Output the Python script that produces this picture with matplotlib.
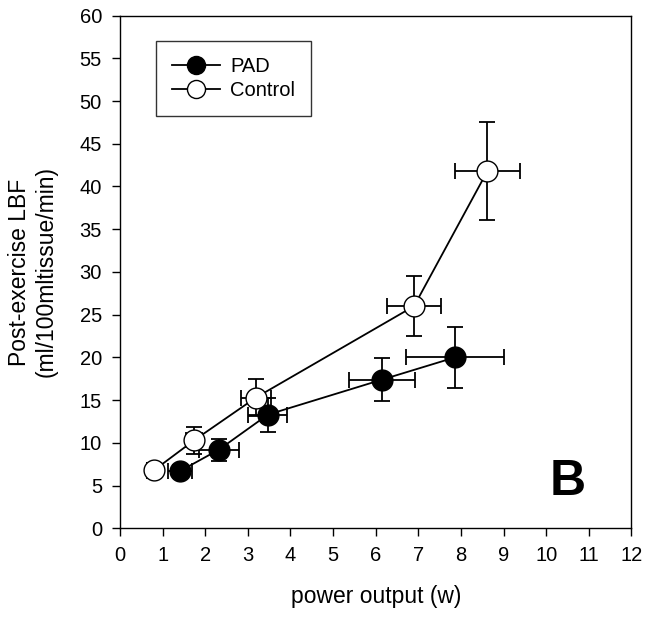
import matplotlib.pyplot as plt
from matplotlib.lines import Line2D

plt.rcParams['font.family'] = ['Liberation Sans', 'DejaVu Sans']

# PAD group
pad_x = [1.41, 2.32, 3.47, 6.15, 7.86]
pad_y = [6.7, 9.2, 13.3, 17.4, 20.0]
pad_xerr = [0.28, 0.47, 0.46, 0.78, 1.14]
pad_yerr = [0.7, 1.3, 2.0, 2.5, 3.6]

# Control group
ctl_x = [0.80, 1.74, 3.19, 6.90, 8.62]
ctl_y = [6.8, 10.3, 15.3, 26.0, 41.8]
ctl_xerr = [0.17, 0.18, 0.35, 0.63, 0.77]
ctl_yerr = [0.9, 1.6, 2.2, 3.5, 5.7]

fig = plt.figure(figsize=(6.45, 6.23), dpi=100)
ax = fig.add_axes([0.186, 0.152, 0.793, 0.823])

ax.errorbar(pad_x, pad_y, xerr=pad_xerr, yerr=pad_yerr, color='black',
            marker='o', markersize=15, markerfacecolor='black',
            markeredgecolor='black', lw=1.3, elinewidth=1.3, capsize=6,
            capthick=1.3, zorder=3)
ax.errorbar(ctl_x, ctl_y, xerr=ctl_xerr, yerr=ctl_yerr, color='black',
            marker='o', markersize=15, markerfacecolor='white',
            markeredgecolor='black', lw=1.3, elinewidth=1.3, capsize=6,
            capthick=1.3, zorder=3)

ax.set_xlim(0, 12)
ax.set_ylim(0, 60)
ax.set_xticks(range(0, 13))
ax.set_yticks(range(0, 61, 5))
ax.tick_params(direction='out', length=6, width=1, labelsize=14.5, pad=7)
for s in ax.spines.values():
    s.set_linewidth(1)

ax.set_xlabel('power output (w)', fontsize=16.5, labelpad=14)
ax.set_ylabel('Post-exercise LBF\n(ml/100mltissue/min)', fontsize=16.5, labelpad=16)

handles = [
    Line2D([], [], color='black', lw=1.3, marker='o', markersize=13,
           markerfacecolor='black', markeredgecolor='black'),
    Line2D([], [], color='black', lw=1.3, marker='o', markersize=13,
           markerfacecolor='white', markeredgecolor='black'),
]
leg = ax.legend(handles, ['PAD', 'Control'], loc='upper left',
                bbox_to_anchor=(0.07, 0.95), borderaxespad=0, fontsize=14.5,
                frameon=True, fancybox=False, edgecolor='black',
                handlelength=2.4, borderpad=0.8, labelspacing=0.25,
                handletextpad=0.5)
leg.get_frame().set_linewidth(1)

ax.text(0.875, 0.09, 'B', transform=ax.transAxes, fontsize=36,
        fontweight='bold', ha='center', va='center')

fig.savefig('out.png', dpi=100)
